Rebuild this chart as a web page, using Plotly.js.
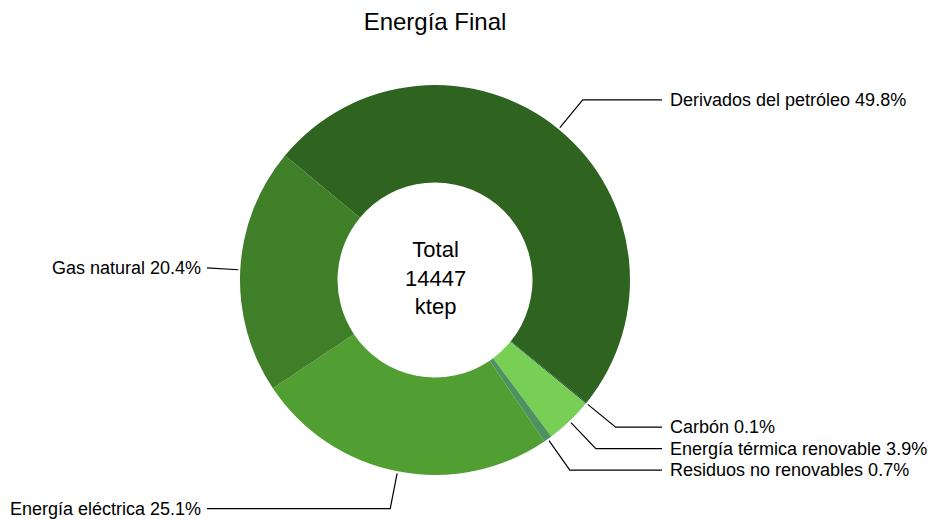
<!DOCTYPE html>
<html>
<head>
<meta charset="utf-8">
<script src="https://cdn.plot.ly/plotly-3.0.1.min.js"></script>
<style>html,body{margin:0;padding:0;background:#fff;}#chart{width:938px;height:519px;}</style>
</head>
<body>
<div id="chart"></div>
<script>
const labels = ['Derivados del petróleo', 'Carbón', 'Energía térmica renovable', 'Residuos no renovables', 'Energía eléctrica', 'Gas natural'];
const values = [49.8, 0.1, 3.9, 0.7, 25.1, 20.4];
const colors = ['#2f6320', '#1d4a35', '#77cf55', '#4f9160', '#519e33', '#3f7f28'];
const centerLines = ['Total', '14447', 'ktep'];
const titleText = 'Energía Final';

const W = 938, H = 519;
const cx = 435, cy = 280, R = 195;
const rotation = -50.3;
const FONT = 'Liberation Sans, Arial, sans-serif';

const px2x = p => p / W;
const px2y = p => 1 - p / H;

const total = values.reduce((a, b) => a + b, 0);
const shapes = [];
const annotations = [];
let cum = 0;
values.forEach((v, i) => {
  const mid = (rotation + (cum + v / 2) / total * 360) * Math.PI / 180;
  cum += v;
  const sx = cx + (R + 2) * Math.sin(mid), sy = cy - (R + 2) * Math.cos(mid);
  let ex = cx + R * 1.195 * Math.sin(mid), ey = cy - R * 1.195 * Math.cos(mid);
  const right = Math.sin(mid) >= 0;
  const endX = right ? 662 : 207;
  if (right && ex > endX) ex = endX;
  if (!right && ex < endX) ex = endX;
  shapes.push({
    type: 'path', xref: 'paper', yref: 'paper',
    path: `M ${px2x(sx)},${px2y(sy)} L ${px2x(ex)},${px2y(ey)} L ${px2x(endX)},${px2y(ey)}`,
    line: {color: '#000', width: 1.2}
  });
  annotations.push({
    xref: 'paper', yref: 'paper',
    x: px2x(right ? 668 : 203), y: px2y(ey),
    xanchor: right ? 'left' : 'right', yanchor: 'middle',
    text: labels[i] + ' ' + v.toFixed(1) + '%',
    showarrow: false,
    font: {family: FONT, size: 18, color: '#000'}
  });
});
annotations.push({
  xref: 'paper', yref: 'paper', x: px2x(cx), y: px2y(cy - 2),
  xanchor: 'center', yanchor: 'middle', showarrow: false,
  text: centerLines.join('<br>'),
  font: {family: FONT, size: 22, color: '#000'}
});

const trace = {
  type: 'pie',
  labels: labels,
  values: values,
  sort: false,
  direction: 'clockwise',
  rotation: rotation,
  hole: 0.5,
  textinfo: 'none',
  textposition: 'none',
  marker: {colors: colors, line: {width: 0}},
  domain: {x: [px2x(cx - R), px2x(cx + R)], y: [px2y(cy + R), px2y(cy - R)]},
  showlegend: false
};

const layout = {
  width: W, height: H,
  margin: {l: 0, r: 0, t: 0, b: 0},
  paper_bgcolor: '#fff',
  showlegend: false,
  title: {text: titleText, x: px2x(cx), xanchor: 'center', y: px2y(22), yanchor: 'middle',
          font: {family: FONT, size: 24, color: '#000'}},
  shapes: shapes,
  annotations: annotations
};

Plotly.newPlot('chart', [trace], layout, {displayModeBar: false, staticPlot: true});
</script>
</body>
</html>
